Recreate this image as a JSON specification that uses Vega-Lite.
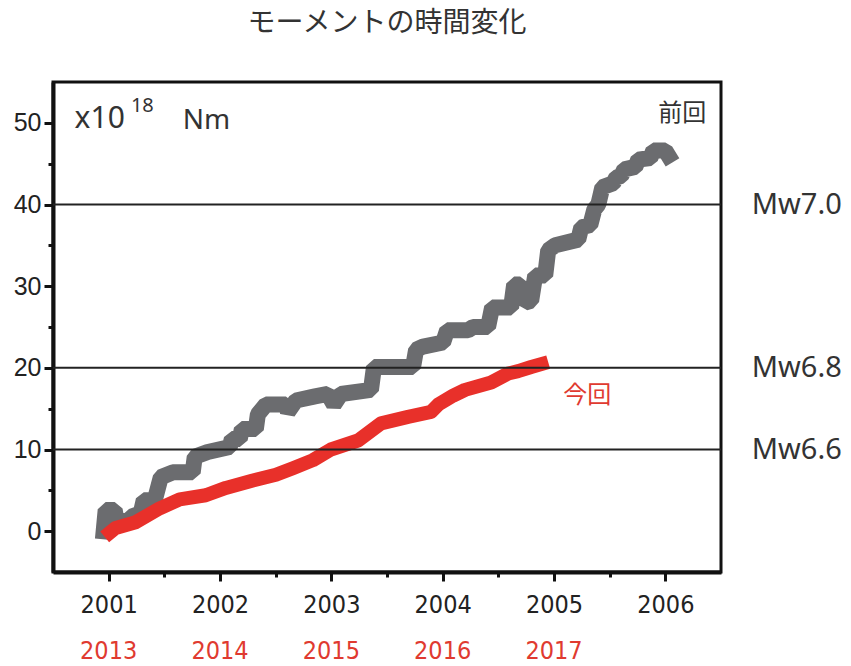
{
  "$schema": "https://vega.github.io/schema/vega-lite/v6.json",
  "width": 668,
  "height": 490,
  "autosize": "none",
  "padding": {"left": 53, "top": 82, "right": 130, "bottom": 94},
  "background": "white",
  "title": {"text": "モーメントの時間変化", "font": "Noto Sans CJK JP", "fontSize": 28, "fontWeight": "normal", "color": "#333333", "anchor": "middle", "offset": 44},
  "config": {
    "view": {"stroke": "#111111", "strokeWidth": 3},
    "axis": {"domainColor": "#111111", "domainWidth": 4, "tickColor": "#111111", "tickWidth": 3, "grid": false, "title": null}
  },
  "datasets": {
    "prev": [
      {"year": 2000.955, "value": 0},
      {"year": 2000.973, "value": 2.6},
      {"year": 2001.054, "value": 2.6},
      {"year": 2001.072, "value": 1.2},
      {"year": 2001.189, "value": 1.3},
      {"year": 2001.207, "value": 1.8},
      {"year": 2001.288, "value": 2.2},
      {"year": 2001.315, "value": 3.8},
      {"year": 2001.414, "value": 3.8},
      {"year": 2001.468, "value": 6.6},
      {"year": 2001.576, "value": 7.2},
      {"year": 2001.755, "value": 7.2},
      {"year": 2001.773, "value": 9.1},
      {"year": 2001.890, "value": 9.7},
      {"year": 2002.088, "value": 10.3},
      {"year": 2002.106, "value": 11.3},
      {"year": 2002.178, "value": 11.3},
      {"year": 2002.196, "value": 12.5},
      {"year": 2002.322, "value": 12.5},
      {"year": 2002.340, "value": 14.3},
      {"year": 2002.412, "value": 15.5},
      {"year": 2002.592, "value": 15.5},
      {"year": 2002.610, "value": 14.6},
      {"year": 2002.682, "value": 16.0},
      {"year": 2002.853, "value": 16.5},
      {"year": 2002.969, "value": 16.8},
      {"year": 2003.023, "value": 15.5},
      {"year": 2003.086, "value": 16.8},
      {"year": 2003.356, "value": 17.3},
      {"year": 2003.383, "value": 20.1},
      {"year": 2003.734, "value": 20.1},
      {"year": 2003.761, "value": 22.2},
      {"year": 2003.824, "value": 22.6},
      {"year": 2004.004, "value": 23.1},
      {"year": 2004.040, "value": 24.6},
      {"year": 2004.228, "value": 24.6},
      {"year": 2004.273, "value": 25.0},
      {"year": 2004.408, "value": 25.0},
      {"year": 2004.444, "value": 27.4},
      {"year": 2004.615, "value": 27.4},
      {"year": 2004.642, "value": 30.2},
      {"year": 2004.696, "value": 30.2},
      {"year": 2004.741, "value": 28.0},
      {"year": 2004.795, "value": 28.2},
      {"year": 2004.831, "value": 31.3},
      {"year": 2004.921, "value": 31.3},
      {"year": 2004.948, "value": 34.4},
      {"year": 2005.011, "value": 35.0},
      {"year": 2005.218, "value": 35.7},
      {"year": 2005.245, "value": 37.2},
      {"year": 2005.326, "value": 37.5},
      {"year": 2005.362, "value": 39.4},
      {"year": 2005.398, "value": 40.0},
      {"year": 2005.434, "value": 42.1},
      {"year": 2005.532, "value": 42.6},
      {"year": 2005.559, "value": 43.3},
      {"year": 2005.604, "value": 43.5},
      {"year": 2005.631, "value": 44.3},
      {"year": 2005.730, "value": 44.6},
      {"year": 2005.757, "value": 45.5},
      {"year": 2005.865, "value": 45.7},
      {"year": 2005.892, "value": 46.6},
      {"year": 2006.0, "value": 46.6},
      {"year": 2006.027, "value": 46.0}
    ],
    "curr": [
      {"year": 2000.964, "value": -0.7},
      {"year": 2001.063, "value": 0.4},
      {"year": 2001.243, "value": 1.1},
      {"year": 2001.459, "value": 2.8},
      {"year": 2001.638, "value": 3.9},
      {"year": 2001.872, "value": 4.4},
      {"year": 2002.052, "value": 5.3},
      {"year": 2002.295, "value": 6.2},
      {"year": 2002.502, "value": 6.9},
      {"year": 2002.655, "value": 7.7},
      {"year": 2002.835, "value": 8.7},
      {"year": 2002.996, "value": 10.0},
      {"year": 2003.239, "value": 11.1},
      {"year": 2003.446, "value": 13.2},
      {"year": 2003.689, "value": 14.0},
      {"year": 2003.896, "value": 14.6},
      {"year": 2003.960, "value": 15.5},
      {"year": 2004.095, "value": 16.6},
      {"year": 2004.201, "value": 17.3},
      {"year": 2004.435, "value": 18.2},
      {"year": 2004.588, "value": 19.3},
      {"year": 2004.678, "value": 19.6},
      {"year": 2004.795, "value": 20.1},
      {"year": 2004.948, "value": 20.7}
    ],
    "levels": [
      {"m": 10, "label": "Mw6.6"},
      {"m": 20, "label": "Mw6.8"},
      {"m": 40, "label": "Mw7.0"}
    ],
    "years2": [
      {"year": 2001, "label": "2013"},
      {"year": 2002, "label": "2014"},
      {"year": 2003, "label": "2015"},
      {"year": 2004, "label": "2016"},
      {"year": 2005, "label": "2017"}
    ]
  },
  "layer": [
    {
      "data": {"name": "prev"},
      "mark": {"type": "line", "color": "#6b6c6f", "strokeWidth": 16, "strokeJoin": "bevel", "strokeCap": "square"},
      "encoding": {
        "x": {
          "field": "year", "type": "quantitative",
          "scale": {"domain": [2000.5, 2006.5], "nice": false, "zero": false},
          "axis": {
            "values": [2001, 2001.5, 2002, 2002.5, 2003, 2003.5, 2004, 2004.5, 2005, 2005.5, 2006],
            "labelExpr": "datum.value % 1 === 0 ? format(datum.value, 'd') : ''",
            "tickSize": {"condition": {"test": "datum.value % 1 === 0", "value": 9}, "value": 5},
            "labelFont": "DejaVu Sans Condensed, Liberation Sans",
            "labelFontSize": 25,
            "labelColor": "#222222",
            "labelPadding": 11
          }
        },
        "y": {
          "field": "value", "type": "quantitative",
          "scale": {"domain": [-5, 55], "nice": false, "zero": false},
          "axis": {
            "values": [0, 5, 10, 15, 20, 25, 30, 35, 40, 45, 50],
            "labelExpr": "datum.value % 10 === 0 ? datum.label : ''",
            "tickSize": {"condition": {"test": "datum.value % 10 === 0", "value": 9}, "value": 5},
            "labelFont": "Liberation Sans",
            "labelFontSize": 25,
            "labelColor": "#222222",
            "labelPadding": 3
          }
        }
      }
    },
    {
      "data": {"name": "curr"},
      "mark": {"type": "line", "color": "#e8302a", "strokeWidth": 14, "strokeJoin": "round", "strokeCap": "butt"},
      "encoding": {
        "x": {"field": "year", "type": "quantitative"},
        "y": {"field": "value", "type": "quantitative"}
      }
    },
    {
      "data": {"name": "levels"},
      "mark": {"type": "rule", "color": "#222222", "strokeWidth": 2},
      "encoding": {"y": {"field": "m", "type": "quantitative"}}
    },
    {
      "data": {"name": "levels"},
      "mark": {"type": "text", "font": "Noto Sans", "fontSize": 29, "color": "#333333", "align": "center", "baseline": "middle"},
      "encoding": {
        "x": {"datum": 2007.18, "type": "quantitative"},
        "y": {"field": "m", "type": "quantitative"},
        "text": {"field": "label"}
      }
    },
    {
      "data": {"name": "years2"},
      "mark": {"type": "text", "font": "DejaVu Sans Condensed, Liberation Sans", "fontSize": 25, "color": "#e03a30", "align": "center", "baseline": "middle"},
      "encoding": {
        "x": {"field": "year", "type": "quantitative"},
        "y": {"datum": -14.7, "type": "quantitative"},
        "text": {"field": "label"}
      }
    },
    {
      "data": {"values": [{}]},
      "mark": {"type": "text", "text": "x10", "font": "Noto Sans", "fontSize": 30, "color": "#333333", "align": "left", "baseline": "alphabetic"},
      "encoding": {
        "x": {"datum": 2000.694, "type": "quantitative"},
        "y": {"datum": 49.4, "type": "quantitative"}
      }
    },
    {
      "data": {"values": [{}]},
      "mark": {"type": "text", "text": "18", "font": "Noto Sans", "fontSize": 20, "color": "#333333", "align": "left", "baseline": "alphabetic"},
      "encoding": {
        "x": {"datum": 2001.2, "type": "quantitative"},
        "y": {"datum": 51.3, "type": "quantitative"}
      }
    },
    {
      "data": {"values": [{}]},
      "mark": {"type": "text", "text": "Nm", "font": "Noto Sans", "fontSize": 28, "color": "#333333", "align": "left", "baseline": "alphabetic"},
      "encoding": {
        "x": {"datum": 2001.665, "type": "quantitative"},
        "y": {"datum": 49.2, "type": "quantitative"}
      }
    },
    {
      "data": {"values": [{}]},
      "mark": {"type": "text", "text": "前回", "font": "Noto Sans CJK JP", "fontSize": 24, "color": "#333333", "align": "center", "baseline": "middle"},
      "encoding": {
        "x": {"datum": 2006.153, "type": "quantitative"},
        "y": {"datum": 51.1, "type": "quantitative"}
      }
    },
    {
      "data": {"values": [{}]},
      "mark": {"type": "text", "text": "今回", "font": "Noto Sans CJK JP", "fontSize": 24, "color": "#e03a30", "align": "center", "baseline": "middle"},
      "encoding": {
        "x": {"datum": 2005.299, "type": "quantitative"},
        "y": {"datum": 16.6, "type": "quantitative"}
      }
    }
  ]
}
